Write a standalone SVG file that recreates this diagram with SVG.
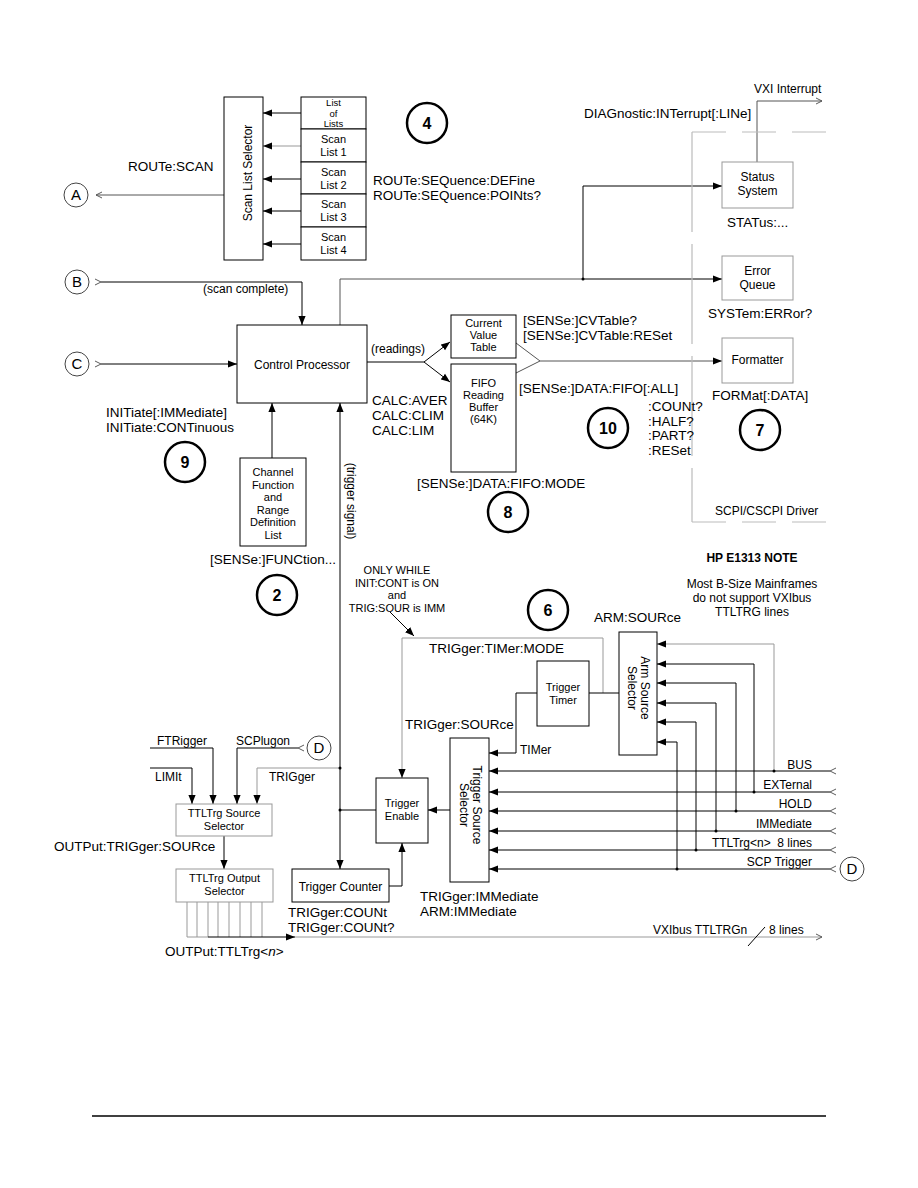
<svg xmlns="http://www.w3.org/2000/svg" width="918" height="1188" viewBox="0 0 918 1188">
<style>
text{font-family:"Liberation Sans",Arial,sans-serif;fill:#000}
.c{font-size:13.5px}
.s{font-size:12px}
.b{font-size:11px}
.m{text-anchor:middle}
.e{text-anchor:end}
.box{fill:#fff;stroke:#000;stroke-width:1}
.gbox{fill:#fff;stroke:#999;stroke-width:1}
.ln{fill:none;stroke:#000;stroke-width:1}
.gl{fill:none;stroke:#999;stroke-width:1}
.dg{fill:none;stroke:#555;stroke-width:1}
.num{fill:#fff;stroke:#000;stroke-width:2.5}
.let{fill:#fff;stroke:#444;stroke-width:1}
.nt{font-size:16px;font-weight:bold;text-anchor:middle}
.lt{font-size:15px;text-anchor:middle}
.dash{fill:none;stroke:#bbb;stroke-width:1.2;stroke-dasharray:34 16}
.dashv{fill:none;stroke:#bbb;stroke-width:1.2;stroke-dasharray:100 12}
</style>
<defs>
<marker id="ah" viewBox="0 0 10 10" refX="10" refY="5" markerWidth="9" markerHeight="9" markerUnits="userSpaceOnUse" orient="auto"><path d="M0,1 L10,5 L0,9 z" fill="#000"/></marker>
<marker id="ch" viewBox="0 0 8 10" refX="8" refY="5" markerWidth="6" markerHeight="7.5" markerUnits="userSpaceOnUse" orient="auto"><path d="M0,1 L8,5 L0,9" fill="none" stroke="#555" stroke-width="1.3"/></marker>
</defs>
<rect width="918" height="1188" fill="#fff"/>

<g id="connectors">
<path class="ln" d="M301,113 H263" marker-end="url(#ah)"/>
<path class="gl" d="M301,146 H263" marker-end="url(#ah)"/>
<path class="ln" d="M301,179 H263" marker-end="url(#ah)"/>
<path class="ln" d="M301,211 H263" marker-end="url(#ah)"/>
<path class="ln" d="M301,244 H263" marker-end="url(#ah)"/>
<path class="dg" d="M224,195 H96" marker-end="url(#ch)"/>
<path class="ln" d="M101,282 H302 V325" marker-start="url(#ch)" marker-end="url(#ah)"/>
<path class="ln" d="M101,364 H237" marker-start="url(#ch)" marker-end="url(#ah)"/>
<path class="dg" d="M340,325 V279 H583"/>
<path class="ln" d="M583,279 H722" marker-end="url(#ah)"/>
<path class="ln" d="M583,279 V186 H722" marker-end="url(#ah)"/>
<circle cx="583" cy="279" r="1.5"/>
<path class="dg" d="M757,162 V101 H822" marker-end="url(#ch)"/>
<path class="ln" d="M367,362 H424"/>
<path class="ln" d="M424,362 L450,342" marker-end="url(#ah)"/>
<path class="ln" d="M424,362 L450,382" marker-end="url(#ah)"/>
<path class="dg" d="M516,343 L540,361 L516,373"/>
<path class="dg" d="M540,361 H722" marker-end="url(#ah)"/>
<path class="ln" d="M272,458 V403" marker-end="url(#ah)"/>
<path class="ln" d="M340,640 V403" marker-end="url(#ah)"/>
<path class="ln" d="M340,640 V869" marker-end="url(#ah)"/>
<path class="ln" d="M390,612 L414,636" marker-end="url(#ah)"/>
<path class="gl" d="M603,693 V638 H402 V778" marker-end="url(#ah)"/>
<path class="ln" d="M589,693 H619"/>
<path class="ln" d="M537,693 H516 V753 H489" marker-end="url(#ah)"/>
<path class="ln" d="M450,810 H428" marker-end="url(#ah)"/>
<path class="ln" d="M376,810 H340"/>
<circle cx="340" cy="810" r="1.5"/>
<path class="ln" d="M389,886 H402 V843" marker-end="url(#ah)"/>
<path class="ln" d="M830,771 H489" marker-start="url(#ch)" marker-end="url(#ah)"/>
<path class="ln" d="M830,792 H489" marker-start="url(#ch)" marker-end="url(#ah)"/>
<path class="ln" d="M830,811 H489" marker-start="url(#ch)" marker-end="url(#ah)"/>
<path class="ln" d="M830,831 H489" marker-start="url(#ch)" marker-end="url(#ah)"/>
<path class="ln" d="M830,850 H489" marker-start="url(#ch)" marker-end="url(#ah)"/>
<path class="ln" d="M830,869 H489" marker-start="url(#ch)" marker-end="url(#ah)"/>
<path class="gl" d="M774,771 V644 H657" marker-end="url(#ah)"/>
<path class="ln" d="M754,792 V664 H657" marker-end="url(#ah)"/>
<path class="ln" d="M736,811 V683 H657" marker-end="url(#ah)"/>
<path class="ln" d="M716,831 V703 H657" marker-end="url(#ah)"/>
<path class="ln" d="M696,850 V722 H657" marker-end="url(#ah)"/>
<path class="ln" d="M677,869 V742 H657" marker-end="url(#ah)"/>
<circle cx="774" cy="771" r="1.5"/>
<circle cx="754" cy="792" r="1.5"/>
<circle cx="736" cy="811" r="1.5"/>
<circle cx="716" cy="831" r="1.5"/>
<circle cx="696" cy="850" r="1.5"/>
<circle cx="677" cy="869" r="1.5"/>
<path class="ln" d="M150,748 H213 V804" marker-end="url(#ah)"/>
<path class="ln" d="M150,768 H192 V804" marker-end="url(#ah)"/>
<path class="ln" d="M298,748 H237 V804" marker-start="url(#ch)" marker-end="url(#ah)"/>
<path class="gl" d="M340,768 H257 V804" marker-end="url(#ah)"/>
<circle cx="340" cy="768" r="1.5"/>
<path class="ln" d="M224,836 V869" marker-end="url(#ah)"/>
<path class="gl" d="M187,902 V937 M197,902 V937 M208,902 V937 M218,902 V937 M229,902 V937 M240,902 V937 M251,902 V937 M262,902 V937 M187,937 H208"/>
<path class="ln" d="M208,937 H295" marker-end="url(#ah)"/>
<path class="gl" d="M295,937 H822" marker-end="url(#ch)"/>
<path class="ln" d="M748,946 L765,927"/>
<path class="dash" d="M692,132 H832"/>
<path class="dashv" d="M692,132 V522"/>
<path class="dash" d="M692,522 H832"/>
<path fill="none" stroke="#000" stroke-width="1.5" d="M92,1116 H826"/>
</g>

<g id="scan-list-selector">
<rect class="box" x="224" y="97" width="39" height="163"/>
<text class="s m" transform="translate(252,173) rotate(-90)">Scan List Selector</text>
</g>
<g id="list-of-lists">
<rect class="box" x="301" y="97" width="65" height="32"/>
<text class="m" font-size="9.5" x="333.5" y="106">List</text><text class="m" font-size="9.5" x="333.5" y="116.5">of</text><text class="m" font-size="9.5" x="333.5" y="127">Lists</text>
</g>
<g id="scan-list-1">
<rect class="box" x="301" y="129" width="65" height="33"/>
<text class="b m" x="333.5" y="143">Scan</text><text class="b m" x="333.5" y="156">List 1</text>
</g>
<g id="scan-list-2">
<rect class="box" x="301" y="162" width="65" height="32"/>
<text class="b m" x="333.5" y="176">Scan</text><text class="b m" x="333.5" y="189">List 2</text>
</g>
<g id="scan-list-3">
<rect class="box" x="301" y="194" width="65" height="33"/>
<text class="b m" x="333.5" y="208">Scan</text><text class="b m" x="333.5" y="221">List 3</text>
</g>
<g id="scan-list-4">
<rect class="box" x="301" y="227" width="65" height="33"/>
<text class="b m" x="333.5" y="241">Scan</text><text class="b m" x="333.5" y="254">List 4</text>
</g>

<g id="control-processor">
<rect class="box" x="237" y="325" width="130" height="78"/>
<text class="s m" x="302" y="369">Control Processor</text>
</g>
<g id="channel-function">
<rect class="box" x="240" y="458" width="66" height="88"/>
<text class="b m" x="273" y="476">Channel</text><text class="b m" x="273" y="488.5">Function</text><text class="b m" x="273" y="501">and</text><text class="b m" x="273" y="513.5">Range</text><text class="b m" x="273" y="526">Definition</text><text class="b m" x="273" y="538.5">List</text>
</g>
<g id="current-value-table">
<rect class="box" x="451" y="315" width="65" height="43"/>
<text class="b m" x="483.5" y="327">Current</text><text class="b m" x="483.5" y="339">Value</text><text class="b m" x="483.5" y="351">Table</text>
</g>
<g id="fifo-buffer">
<rect class="box" x="451" y="364" width="65" height="108"/>
<text class="b m" x="483.5" y="387">FIFO</text><text class="b m" x="483.5" y="399">Reading</text><text class="b m" x="483.5" y="411">Buffer</text><text class="b m" x="483.5" y="423">(64K)</text>
</g>
<g id="status-system">
<rect class="gbox" x="722" y="162" width="71" height="46"/>
<text class="s m" x="757.5" y="181">Status</text><text class="s m" x="757.5" y="195">System</text>
</g>
<g id="error-queue">
<rect class="gbox" x="722" y="256" width="71" height="44"/>
<text class="s m" x="757.5" y="275">Error</text><text class="s m" x="757.5" y="289">Queue</text>
</g>
<g id="formatter">
<rect class="gbox" x="722" y="338" width="71" height="45"/>
<text class="s m" x="757.5" y="364">Formatter</text>
</g>
<g id="trigger-timer">
<rect class="box" x="537" y="661" width="52" height="65"/>
<text class="b m" x="563" y="691">Trigger</text><text class="b m" x="563" y="704">Timer</text>
</g>
<g id="arm-source-selector">
<rect class="box" x="619" y="632" width="38" height="123"/>
<text class="s m" transform="translate(641,688) rotate(90)"><tspan x="0" y="0">Arm Source</tspan><tspan x="0" y="13">Selector</tspan></text>
</g>
<g id="trigger-source-selector">
<rect class="box" x="450" y="738" width="39" height="144"/>
<text class="s m" transform="translate(473,805) rotate(90)"><tspan x="0" y="0">Trigger Source</tspan><tspan x="0" y="13">Selector</tspan></text>
</g>
<g id="trigger-enable">
<rect class="box" x="376" y="778" width="52" height="65"/>
<text class="b m" x="402" y="807">Trigger</text><text class="b m" x="402" y="820">Enable</text>
</g>
<g id="trigger-counter">
<rect class="box" x="292" y="869" width="97" height="33"/>
<text class="s m" x="340.5" y="891">Trigger Counter</text>
</g>
<g id="ttltrg-source-selector">
<rect class="gbox" x="176" y="804" width="96" height="32"/>
<text class="b m" x="224" y="817">TTLTrg Source</text><text class="b m" x="224" y="830">Selector</text>
</g>
<g id="ttltrg-output-selector">
<rect class="gbox" x="176" y="869" width="97" height="33"/>
<text class="b m" x="224.5" y="882">TTLTrg Output</text><text class="b m" x="224.5" y="895">Selector</text>
</g>

<g id="circle-A"><circle class="let" cx="76" cy="195" r="12"/><text class="lt" x="76" y="200">A</text></g>
<g id="circle-B"><circle class="let" cx="77" cy="282" r="12"/><text class="lt" x="77" y="287">B</text></g>
<g id="circle-C"><circle class="let" cx="77" cy="364" r="12"/><text class="lt" x="77" y="369">C</text></g>
<g id="circle-D-left"><circle class="let" cx="319" cy="748" r="12"/><text class="lt" x="319" y="753">D</text></g>
<g id="circle-D-right"><circle class="let" cx="852" cy="869" r="12"/><text class="lt" x="852" y="874">D</text></g>

<g id="num-4"><circle class="num" cx="427" cy="123" r="20"/><text class="nt" x="427" y="129">4</text></g>
<g id="num-9"><circle class="num" cx="185" cy="462" r="20"/><text class="nt" x="185" y="468">9</text></g>
<g id="num-2"><circle class="num" cx="277" cy="595" r="20"/><text class="nt" x="277" y="601">2</text></g>
<g id="num-8"><circle class="num" cx="508" cy="512" r="20"/><text class="nt" x="508" y="518">8</text></g>
<g id="num-10"><circle class="num" cx="608" cy="428" r="20"/><text class="nt" x="608" y="434">10</text></g>
<g id="num-7"><circle class="num" cx="760" cy="430" r="20"/><text class="nt" x="760" y="436">7</text></g>
<g id="num-6"><circle class="num" cx="548" cy="610" r="20"/><text class="nt" x="548" y="616">6</text></g>

<g id="labels">
<text class="c" x="128" y="171">ROUTe:SCAN</text>
<text class="c" x="373" y="185">ROUTe:SEQuence:DEFine</text>
<text class="c" x="373" y="200">ROUTe:SEQuence:POINts?</text>
<text class="c" x="584" y="118">DIAGnostic:INTerrupt[:LINe]</text>
<text class="s" x="754" y="93">VXI Interrupt</text>
<text class="c" x="727" y="227">STATus:...</text>
<text class="s" x="203" y="293">(scan complete)</text>
<text class="s" x="371" y="353">(readings)</text>
<text class="c" x="372" y="405">CALC:AVER</text>
<text class="c" x="372" y="420">CALC:CLIM</text>
<text class="c" x="372" y="435">CALC:LIM</text>
<text class="c" x="106" y="417">INITiate[:IMMediate]</text>
<text class="c" x="106" y="432">INITiate:CONTinuous</text>
<text class="c" x="210" y="564">[SENSe:]FUNCtion...</text>
<text class="s" transform="translate(347,501) rotate(90)" text-anchor="middle">(trigger signal)</text>
<text class="c" x="523" y="325">[SENSe:]CVTable?</text>
<text class="c" x="523" y="340">[SENSe:]CVTable:RESet</text>
<text class="c" x="708" y="318">SYSTem:ERRor?</text>
<text class="c" x="712" y="400">FORMat[:DATA]</text>
<text class="c" x="519" y="393">[SENSe:]DATA:FIFO[:ALL]</text>
<text class="c" x="648" y="411">:COUNt?</text>
<text class="c" x="648" y="425.5">:HALF?</text>
<text class="c" x="648" y="440">:PART?</text>
<text class="c" x="648" y="454.5">:RESet</text>
<text class="c" x="417" y="488">[SENSe:]DATA:FIFO:MODE</text>
<text class="s" x="715" y="515">SCPI/CSCPI Driver</text>
<text class="s m" x="752" y="562" font-weight="bold">HP E1313 NOTE</text>
<text class="s m" x="752" y="588">Most B-Size Mainframes</text>
<text class="s m" x="752" y="602">do not support VXIbus</text>
<text class="s m" x="752" y="616">TTLTRG lines</text>
<text class="b m" x="397" y="574">ONLY WHILE</text>
<text class="b m" x="397" y="586.5">INIT:CONT is ON</text>
<text class="b m" x="397" y="599">and</text>
<text class="b m" x="397" y="611.5">TRIG:SOUR is IMM</text>
<text class="c" x="594" y="622">ARM:SOURce</text>
<text class="c" x="429" y="653">TRIGger:TIMer:MODE</text>
<text class="c" x="405" y="729">TRIGger:SOURce</text>
<text class="s" x="520" y="754">TIMer</text>
<text class="c" x="420" y="901">TRIGger:IMMediate</text>
<text class="c" x="420" y="916">ARM:IMMediate</text>
<text class="c" x="288" y="917">TRIGger:COUNt</text>
<text class="c" x="288" y="932">TRIGger:COUNt?</text>
<text class="c" x="54" y="851">OUTPut:TRIGger:SOURce</text>
<text class="c" x="165" y="956">OUTPut:TTLTrg&lt;<tspan font-style="italic">n</tspan>&gt;</text>
<text class="s" x="653" y="934">VXIbus TTLTRGn</text>
<text class="s" x="769" y="934">8 lines</text>
<text class="s" x="157" y="745">FTRigger</text>
<text class="s" x="155" y="781">LIMIt</text>
<text class="s" x="236" y="745">SCPlugon</text>
<text class="s" x="269" y="781">TRIGger</text>
<text class="s e" x="812" y="769">BUS</text>
<text class="s e" x="812" y="789">EXTernal</text>
<text class="s e" x="812" y="808">HOLD</text>
<text class="s e" x="812" y="828">IMMediate</text>
<text class="s e" x="812" y="847" xml:space="preserve">TTLTrg&lt;n&gt;  8 lines</text>
<text class="s e" x="812" y="866">SCP Trigger</text>
</g>
</svg>
